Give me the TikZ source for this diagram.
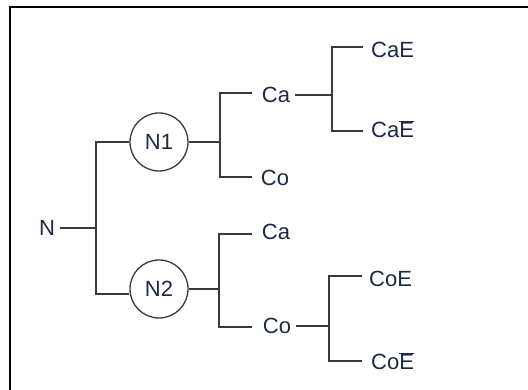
\documentclass[tikz,border=0pt]{standalone}
\usepackage{fontspec}
\setmainfont{Liberation Sans}
\definecolor{txt}{HTML}{1C2A45}
\definecolor{ln}{HTML}{3A3A3A}
\begin{document}
\begin{tikzpicture}[x=1pt,y=-1pt,
  lbl/.style={inner sep=0pt,text=txt,font=\fontsize{22}{24}\selectfont},
  circ/.style={draw=ln,circle,line width=1.3pt,minimum size=58pt,inner sep=0pt,text=txt,font=\fontsize{22}{24}\selectfont},
  edge/.style={draw=ln,line width=1.5pt}]
\useasboundingbox (0,0) rectangle (528,390);
\draw[line width=2.2pt,black] (10,390) -- (10,7) -- (528,7);
% nodes
\node[lbl] (N) at (47,228) {N};
\node[circ] (N1) at (159,142) {N1};
\node[circ] (N2) at (159,289) {N2};
\node[lbl] (Ca1) at (276,95) {Ca};
\node[lbl] (Co1) at (275,178) {Co};
\node[lbl] (Ca2) at (276,232) {Ca};
\node[lbl] (Co2) at (277,326) {Co};
\node[lbl,anchor=west] (CaE) at (371,50) {CaE};
\node[lbl,anchor=west] (CaEb) at (371,129) {Ca$\overline{\mbox{E}}$};
\node[lbl,anchor=west] (CoE) at (369,279) {CoE};
\node[lbl,anchor=west] (CoEb) at (371,361) {Co$\overline{\mbox{E}}$};
% junctions
\coordinate (j0) at (96,228);
\coordinate (j1) at (220,142);
\coordinate (j2) at (219,289);
\coordinate (j3) at (332,95);
\coordinate (j4) at (329,326);
% connectors
\draw[edge] ([xshift=5pt]N.east) -- (j0);
\draw[edge] (N1.west) -- (96,142) -- (96,294) -- (N2.west |- 0,294);
\draw[edge] (N1.east) -- (j1);
\draw[edge] (252,93) -- (220,93) -- (220,177) -- (252,177);
\draw[edge] (N2.east) -- (j2);
\draw[edge] (252,234) -- (219,234) -- (219,327) -- (252,327);
\draw[edge] ([xshift=5pt]Ca1.east) -- (j3);
\draw[edge] (363,47) -- (332,47) -- (332,131) -- (363,131);
\draw[edge] ([xshift=5pt]Co2.east) -- (j4);
\draw[edge] (362,276) -- (329,276) -- (329,361) -- (362,361);
\end{tikzpicture}
\end{document}
